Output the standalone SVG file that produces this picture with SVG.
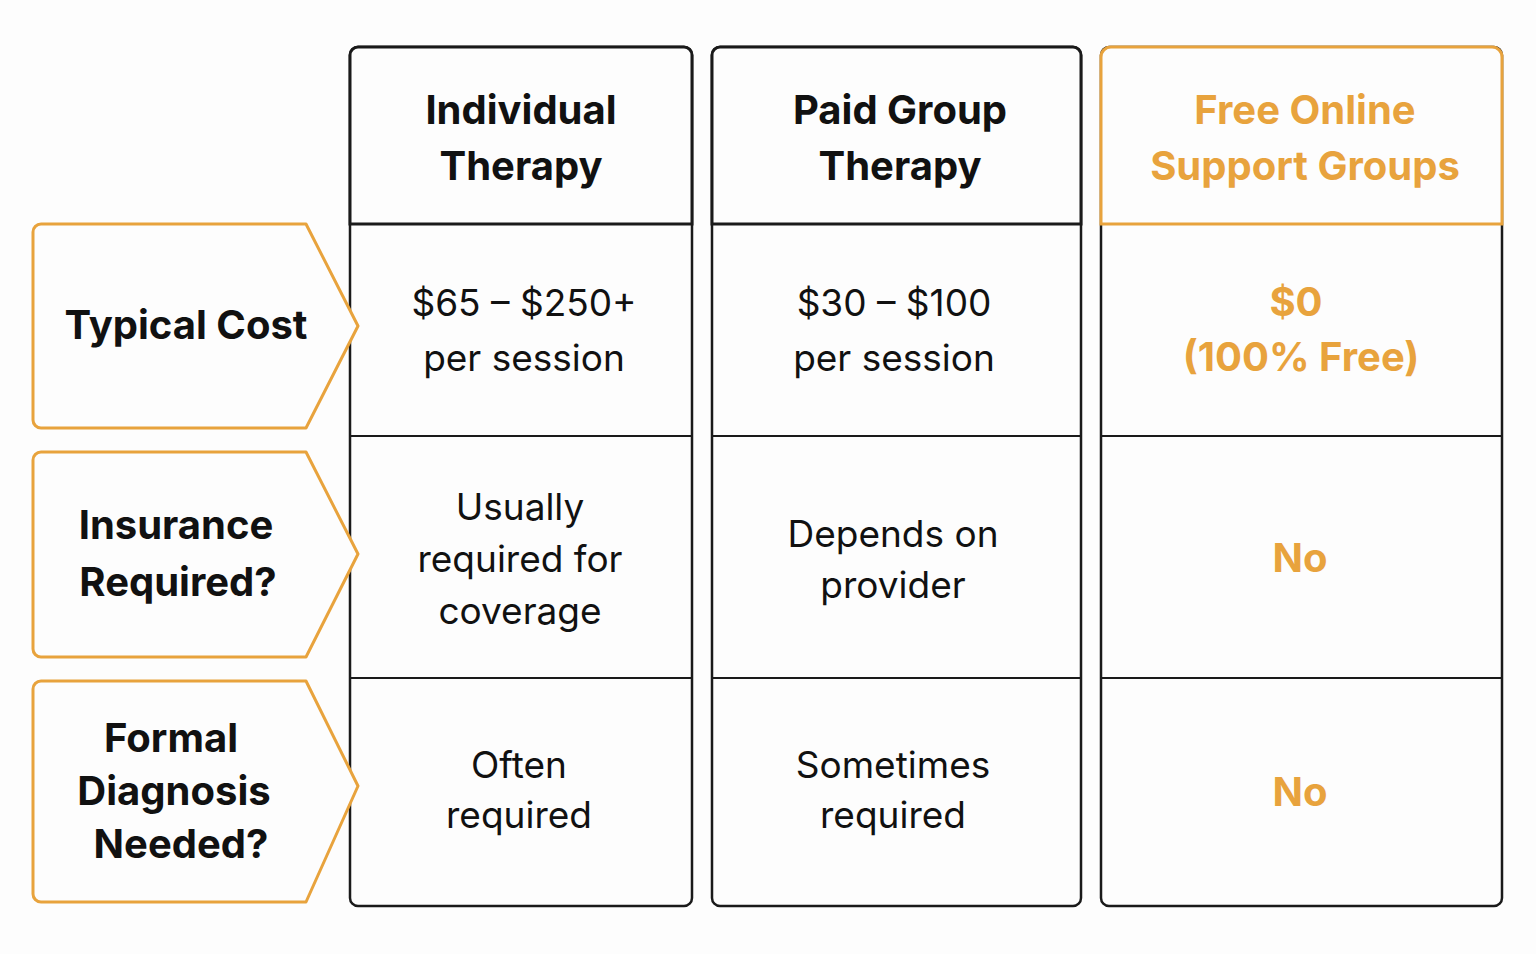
<svg xmlns="http://www.w3.org/2000/svg" width="1536" height="954" viewBox="0 0 1536 954">
<style>
.bg{fill:#fdfdfd}
.box{fill:#fdfdfd;stroke:#1a1a1a;stroke-width:2.5}
.hdr{fill:#fdfdfd;stroke:#1a1a1a;stroke-width:3}
.ohdr{fill:#fdfdfd;stroke:#e8a33d;stroke-width:3}
.lab{fill:#fdfdfd;stroke:#e8a33d;stroke-width:3;stroke-linejoin:round}
.grid{stroke:#1a1a1a;stroke-width:2}
text{font-family:Inter,"Liberation Sans",sans-serif;text-anchor:middle}
.h{font-size:40px;font-weight:700;fill:#111}
.oh{font-size:40px;font-weight:700;fill:#e8a33d}
.c{font-size:37px;fill:#111}
.oc{font-size:40px;font-weight:700;fill:#e8a33d}
.l{font-size:40px;font-weight:700;fill:#111}
</style>
<rect class="bg" width="1536" height="954"/>
<g id="col1"><rect class="box" x="350" y="47" width="342" height="859" rx="8"/><path class="hdr" d="M350 224 V55 a8 8 0 0 1 8-8 H684 a8 8 0 0 1 8 8 V224 Z"/></g>
<g id="col2"><rect class="box" x="712" y="47" width="369" height="859" rx="8"/><path class="hdr" d="M712 224 V55 a8 8 0 0 1 8-8 H1073 a8 8 0 0 1 8 8 V224 Z"/></g>
<g id="col3"><rect class="box" x="1101" y="47" width="401" height="859" rx="8"/><path class="ohdr" d="M1101 224 V57 a10 10 0 0 1 10-10 H1492 a10 10 0 0 1 10 10 V224 Z"/></g>
<g id="gridlines">
<line class="grid" x1="350" y1="436" x2="692" y2="436"/><line class="grid" x1="712" y1="436" x2="1081" y2="436"/><line class="grid" x1="1101" y1="436" x2="1502" y2="436"/>
<line class="grid" x1="350" y1="678" x2="692" y2="678"/><line class="grid" x1="712" y1="678" x2="1081" y2="678"/><line class="grid" x1="1101" y1="678" x2="1502" y2="678"/>
</g>
<g id="hdr1"><text class="h" x="521" y="124">Individual</text><text class="h" x="521" y="180">Therapy</text></g>
<g id="hdr2"><text class="h" x="900" y="124">Paid Group</text><text class="h" x="900" y="180">Therapy</text></g>
<g id="hdr3"><text class="oh" x="1305" y="124">Free Online</text><text class="oh" x="1305" y="180">Support Groups</text></g>
<g id="lab1"><path class="lab" d="M41 224 H306 L358 326 L306 428 H41 a8 8 0 0 1-8-8 V232 a8 8 0 0 1 8-8 Z"/><text class="l" x="186" y="339">Typical Cost</text></g>
<g id="lab2"><path class="lab" d="M41 452 H306 L358 554 L306 657 H41 a8 8 0 0 1-8-8 V460 a8 8 0 0 1 8-8 Z"/><text class="l" x="176" y="539">Insurance</text><text class="l" x="178" y="596">Required?</text></g>
<g id="lab3"><path class="lab" d="M41 681 H306 L358 786 L306 902 H41 a8 8 0 0 1-8-8 V689 a8 8 0 0 1 8-8 Z"/><text class="l" x="171" y="752">Formal</text><text class="l" x="174" y="805">Diagnosis</text><text class="l" x="181" y="858">Needed?</text></g>
<g id="c11"><text class="c" x="524" y="316">$65 – $250+</text><text class="c" x="524" y="371">per session</text></g>
<g id="c12"><text class="c" x="894" y="316">$30 – $100</text><text class="c" x="894" y="371">per session</text></g>
<g id="c13"><text class="oc" x="1296" y="316">$0</text><text class="oc" x="1301" y="371">(100% Free)</text></g>
<g id="c21"><text class="c" x="520" y="520">Usually</text><text class="c" x="520" y="572">required for</text><text class="c" x="520" y="624">coverage</text></g>
<g id="c22"><text class="c" x="893" y="547">Depends on</text><text class="c" x="893" y="598">provider</text></g>
<g id="c23"><text class="oc" x="1300" y="572">No</text></g>
<g id="c31"><text class="c" x="519" y="778">Often</text><text class="c" x="519" y="828">required</text></g>
<g id="c32"><text class="c" x="893" y="778">Sometimes</text><text class="c" x="893" y="828">required</text></g>
<g id="c33"><text class="oc" x="1300" y="806">No</text></g>
</svg>
